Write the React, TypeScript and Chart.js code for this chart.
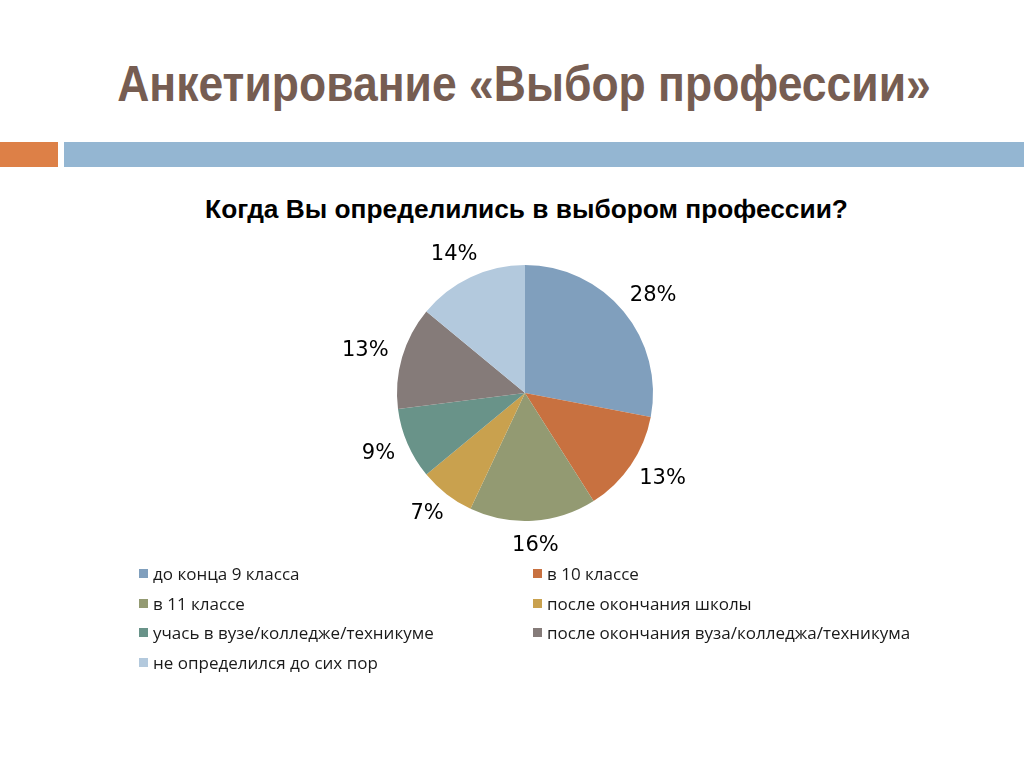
import React, { useEffect, useRef } from "react";
import { Chart, registerables } from "chart.js";

Chart.register(...registerables);

const title = "Анкетирование «Выбор профессии»";
const chartTitle = "Когда Вы определились в выбором профессии?";
const categories = [
  "до конца 9 класса",
  "в 10 классе",
  "в 11 классе",
  "после окончания школы",
  "учась в вузе/колледже/техникуме",
  "после окончания вуза/колледжа/техникума",
  "не определился до сих пор",
];
const percents = [28, 13, 16, 7, 9, 13, 14];
const colors = ["#809FBD", "#C87140", "#939A72", "#C9A14E", "#699389", "#857B79", "#B3C9DD"];

const labelPlugin = {
  id: "outsideLabels",
  afterDatasetsDraw(chart: any) {
    const ctx = chart.ctx;
    const meta = chart.getDatasetMeta(0);
    ctx.save();
    ctx.font = "21px 'DejaVu Sans'";
    ctx.fillStyle = "#000";
    ctx.textAlign = "center";
    ctx.textBaseline = "middle";
    meta.data.forEach((arc: any, i: number) => {
      const { x, y, startAngle, endAngle, outerRadius } = arc.getProps(
        ["x", "y", "startAngle", "endAngle", "outerRadius"],
        true
      );
      const mid = (startAngle + endAngle) / 2;
      const dx = Math.cos(mid);
      const dy = Math.sin(mid);
      const text = percents[i] + "%";
      const w = ctx.measureText(text).width;
      const h = 20;
      const gap = 15;
      const px = x + dx * (outerRadius + gap) + dx * (w / 2);
      const py = y + dy * (outerRadius + gap) + dy * (h / 2);
      ctx.fillText(text, px, py);
    });
    ctx.restore();
  },
};

export default function App() {
  const ref = useRef<HTMLCanvasElement>(null);
  useEffect(() => {
    document.body.style.margin = "0";
    const chart = new Chart(ref.current!, {
      type: "pie",
      data: {
        labels: categories,
        datasets: [
          {
            data: percents,
            backgroundColor: colors,
            borderWidth: 0,
          },
        ],
      },
      options: {
        animation: false,
        responsive: false,
        maintainAspectRatio: false,
        layout: { padding: { top: 42, bottom: 42, left: 72, right: 72 } },
        plugins: { legend: { display: false }, tooltip: { enabled: false }, title: { display: false } },
      },
      plugins: [labelPlugin],
    });
    return () => chart.destroy();
  }, []);

  const rows: number[][] = [];
  for (let i = 0; i < categories.length; i += 2) rows.push([i, i + 1]);

  return (
    <div
      style={{
        position: "absolute",
        left: 0,
        top: 0,
        width: 1024,
        height: 767,
        background: "#fff",
        overflow: "hidden",
        fontFamily: "'Liberation Sans', sans-serif",
      }}
    >
      <div
        style={{
          position: "absolute",
          left: 0,
          width: 1048,
          top: 54,
          textAlign: "center",
          fontSize: 50,
          fontWeight: "bold",
          color: "#765D52",
          lineHeight: "60px",
          transform: "scaleX(0.89)",
          transformOrigin: "524px 0",
          whiteSpace: "nowrap",
        }}
      >
        {title}
      </div>
      <div style={{ position: "absolute", left: 0, top: 142, width: 58, height: 25, background: "#DD8047" }} />
      <div style={{ position: "absolute", left: 64, top: 142, width: 960, height: 25, background: "#94B6D2" }} />
      <div
        style={{
          position: "absolute",
          left: 0,
          width: 1053,
          top: 192,
          textAlign: "center",
          fontSize: 26.3,
          fontWeight: "bold",
          color: "#000",
          lineHeight: "34px",
          whiteSpace: "nowrap",
        }}
      >
        {chartTitle}
      </div>
      <canvas
        ref={ref}
        width={400}
        height={340}
        style={{ position: "absolute", left: 325, top: 223, width: 400, height: 340 }}
      />
      <div style={{ position: "absolute", left: 139, top: 559 }}>
        {rows.map((r, ri) => (
          <div key={ri} style={{ display: "flex", height: 29.5, alignItems: "center" }}>
            {r.map((i) =>
              i < categories.length ? (
                <div key={i} style={{ width: 394, display: "flex", alignItems: "center" }}>
                  <span
                    style={{ display: "inline-block", width: 9, height: 9, background: colors[i], marginRight: 5, flex: "none" }}
                  />
                  <span style={{ fontFamily: "'Open Sans', sans-serif", fontSize: 17, color: "#1a1a1a", whiteSpace: "nowrap" }}>
                    {categories[i]}
                  </span>
                </div>
              ) : null
            )}
          </div>
        ))}
      </div>
    </div>
  );
}
